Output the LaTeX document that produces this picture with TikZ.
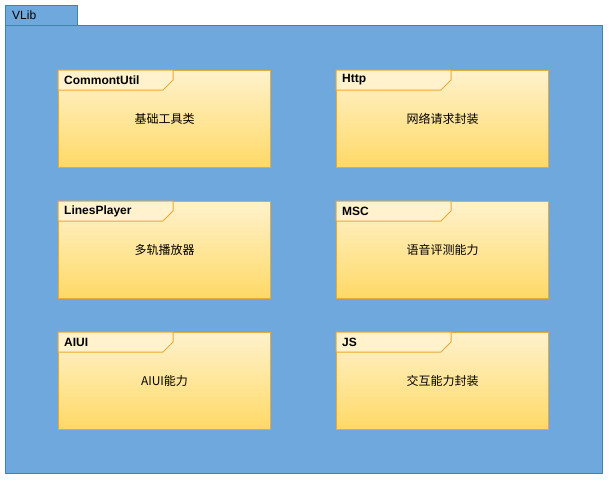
\documentclass[tikz,border=0pt]{standalone}
\usepackage{fontspec}
\setmainfont{Liberation Sans}
\newfontfamily\cjk{Noto Sans CJK SC}
\definecolor{pkgfill}{HTML}{6FA8DC}
\definecolor{pkgline}{HTML}{3D86A8}
\definecolor{frameline}{HTML}{E8AA35}
\definecolor{frametop}{HTML}{FFF2CC}
\definecolor{framebot}{HTML}{FFD966}

\begin{document}
\begin{tikzpicture}[
    x = 1pt, y = -1pt,
    pkg/.style = {draw = pkgline, fill = pkgfill, line width = 1pt},
    frame/.style = {draw = frameline, top color = frametop, bottom color = framebot,
                    line width = 1pt, minimum width = 212pt, minimum height = 97pt,
                    inner sep = 0pt, anchor = north west},
    tab/.style = {draw = frameline, fill = frametop, line width = 1pt},
    tag/.style = {font = \bfseries\fontsize{12}{14}\selectfont, anchor = west, inner sep = 0pt},
    body/.style = {font = \cjk\fontsize{12}{14}\selectfont}]

\useasboundingbox (0,0) rectangle (611,488);

% package VLib
\draw[pkg] (5,25) rectangle (602,473);
\draw[pkg] (5,5) rectangle (77,25);
\node[anchor = west, inner sep = 0pt, font = \fontsize{12}{14}\selectfont] (vlib) at (12,15) {VLib};

% frames
\node[frame] (util) at (58,70)  {};
\node[frame] (http) at (336,70) {};
\node[frame] (lines) at (58,201) {};
\node[frame] (msc) at (336,201) {};
\node[frame] (aiui) at (58,332) {};
\node[frame] (js) at (336,332) {};

\foreach \f in {util, http, lines, msc, aiui, js}
  \draw[tab] (\f.north west) -- ++(115,0) -- ++(0,10) -- ++(-10,10) -- ++(-105,0) -- cycle;

\path (util.north west)  ++(6,10) node[tag] (utiltag) {CommontUtil}
      (http.north west)  ++(6,10) node[tag] (httptag) {Http}
      (lines.north west) ++(6,10) node[tag] (linestag) {LinesPlayer}
      (msc.north west)   ++(6,10) node[tag] (msctag) {MSC}
      (aiui.north west)  ++(6,10) node[tag] (aiuitag) {AIUI}
      (js.north west)    ++(6,10) node[tag] (jstag) {JS};

\node[body] (utiltext) at (util.center) {基础工具类};
\node[body] (httptext) at (http.center) {网络请求封装};
\node[body] (linestext) at (lines.center) {多轨播放器};
\node[body] (msctext) at (msc.center) {语音评测能力};
\node[body] (aiuitext) at (aiui.center) {AIUI能力};
\node[body] (jstext) at (js.center) {交互能力封装};
\end{tikzpicture}
\end{document}
